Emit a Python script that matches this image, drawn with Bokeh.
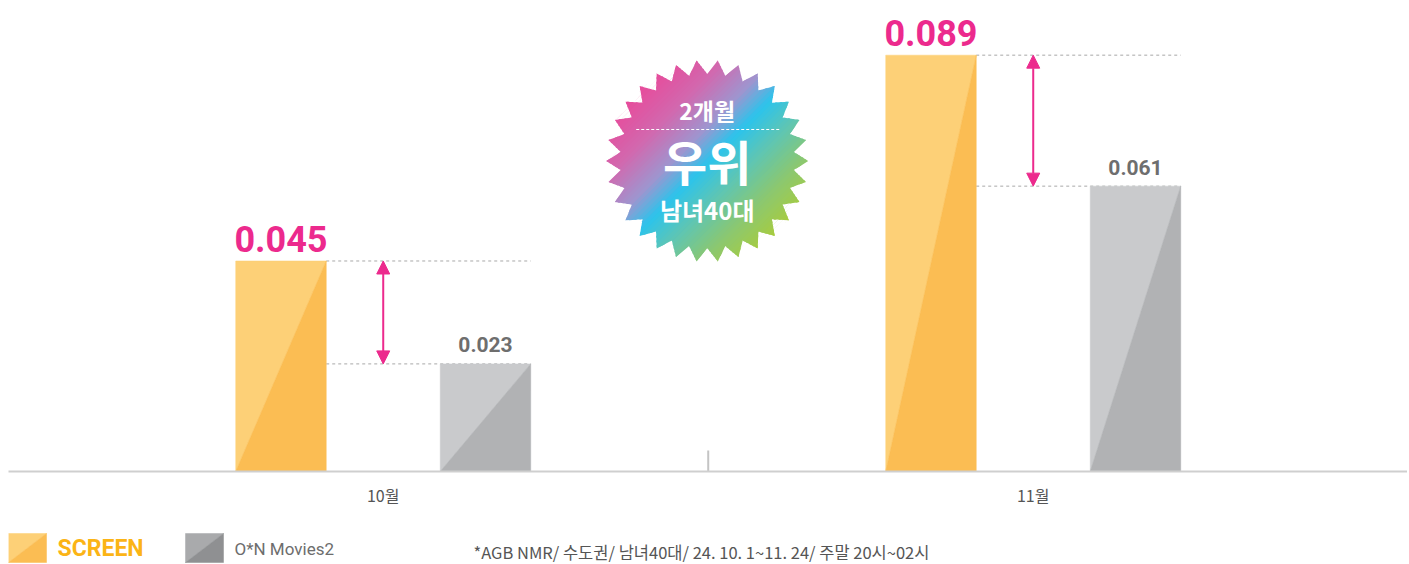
import numpy as np
from bokeh.plotting import figure
from bokeh.models import Range1d, FixedTicker, Arrow, NormalHead, ColumnDataSource
from bokeh.layouts import column
from bokeh.core.properties import value
from bokeh.embed import file_html
from bokeh.resources import INLINE

# ---------------- data ----------------
categories = ["10월", "11월"]
screen_vals = [0.045, 0.089]
movies_vals = [0.023, 0.061]
series_names = ["SCREEN", "O*N Movies2"]
badge_lines = ["2개월", "우위", "남녀40대"]
footnote = "*AGB NMR/ 수도권/ 남녀40대/ 24. 10. 1~11. 24/ 주말 20시~02시"

# ---------------- styling / layout ----------------
W = 1407
LEFT = 8
TOPB = 8
FH = 463
BOT = 50
TOP_H = TOPB + FH + BOT
PXX = 650.0
X0 = -0.5765
X1 = X0 + (W - LEFT) / PXX
PXY = 4678.0
Y1 = FH / PXY

PINK = "#ec2a8d"
GRAY_TXT = "#6e6e6e"
SCR_LIGHT, SCR_DARK = "#fdd077", "#fbbd53"
MOV_LIGHT, MOV_DARK = "#c9cacc", "#b1b2b4"
LEG_MOV_LIGHT, LEG_MOV_DARK = "#a9aaac", "#8f9092"

OFF = 102.25 / PXX
BW = 90.5 / PXX

p = figure(width=W, height=TOP_H, x_range=Range1d(X0, X1), y_range=Range1d(0, Y1),
           output_backend="svg", toolbar_location=None, y_axis_location=None,
           min_border_left=LEFT, min_border_right=0, min_border_top=TOPB, min_border_bottom=BOT)
p.grid.visible = False
p.outline_line_color = None
p.background_fill_color = "white"
p.border_fill_color = "white"

p.xaxis.ticker = FixedTicker(ticks=list(range(len(categories))))
p.xaxis.major_label_overrides = {i: c for i, c in enumerate(categories)}
p.xaxis.axis_line_color = "#cfcfcf"
p.xaxis.axis_line_width = 2
p.xaxis.major_tick_line_color = None
p.xaxis.minor_tick_line_color = None
p.xaxis.major_label_text_font = "Noto Sans CJK KR"
p.xaxis.major_label_text_font_size = "16px"
p.xaxis.major_label_text_color = "#555555"
p.xaxis.major_label_standoff = 5

# category separator tick
p.segment(x0=[0.5], y0=[0], x1=[0.5], y1=[21 / PXY], line_color="#c4c4c4", line_width=2)

# dashed reference lines
dx0, dy0, dx1, dy1 = [], [], [], []
for i in range(len(categories)):
    xa = i - OFF + BW / 2
    xb = i + OFF + BW / 2
    for v in (screen_vals[i], movies_vals[i]):
        dx0.append(xa); dx1.append(xb); dy0.append(v); dy1.append(v)
p.segment(x0=dx0, y0=dy0, x1=dx1, y1=dy1, line_color="#a8a8a8", line_width=1, line_dash="3 3")


def two_tone(fig, centers, vals, width, light, dark):
    lxs, lys, dxs, dys = [], [], [], []
    for c, v in zip(centers, vals):
        xl, xr = c - width / 2, c + width / 2
        lxs.append([xl, xl, xr]); lys.append([0, v, v])
        dxs.append([xl, xr, xr]); dys.append([0, v, 0])
    fig.patches(lxs, lys, fill_color=light, line_color=light, line_width=0.5)
    fig.patches(dxs, dys, fill_color=dark, line_color=dark, line_width=0.5)


idx = np.arange(len(categories))
two_tone(p, idx - OFF, screen_vals, BW, SCR_LIGHT, SCR_DARK)
two_tone(p, idx + OFF, movies_vals, BW, MOV_LIGHT, MOV_DARK)

# value labels
p.text(x=list(idx - OFF), y=[v + 22 / PXY for v in screen_vals],
       text=[f"{v:.3f}" for v in screen_vals], text_align="center", text_baseline="alphabetic",
       text_font=value("Roboto"), text_font_style="bold", text_font_size="36px", text_color=PINK)
p.text(x=list(idx + OFF), y=[v + 19 / PXY for v in movies_vals],
       text=[f"{v:.3f}" for v in movies_vals], text_align="center", text_baseline="alphabetic",
       text_font=value("Roboto"), text_font_style="bold", text_font_size="21px", text_color=GRAY_TXT)

# difference arrows
asrc = ColumnDataSource(dict(x=list(idx.astype(float)), y0=movies_vals, y1=screen_vals))
p.add_layout(Arrow(start=NormalHead(size=13, fill_color=PINK, line_color=PINK),
                   end=NormalHead(size=13, fill_color=PINK, line_color=PINK),
                   x_start="x", y_start="y0", x_end="x", y_end="y1", source=asrc,
                   line_color=PINK, line_width=2))

# ---------------- starburst badge ----------------
CX = 0.5 - 1.0 / PXX
CY = 310.5 / PXY
N_SPIKES = 30
R_OUT, R_IN = 101.0, 87.0
pts = []
for k in range(2 * N_SPIKES):
    a = np.pi / 2 + np.pi / N_SPIKES + k * np.pi / N_SPIKES
    r = R_OUT if k % 2 == 0 else R_IN
    pts.append((r * np.cos(a), r * np.sin(a)))


def clip_half(poly, a, b, c):
    out = []
    n = len(poly)
    for i in range(n):
        P = poly[i]; Q = poly[(i + 1) % n]
        fp = a * P[0] + b * P[1] - c
        fq = a * Q[0] + b * Q[1] - c
        if fp <= 0:
            out.append(P)
        if (fp <= 0) != (fq <= 0):
            t = fp / (fp - fq)
            out.append((P[0] + t * (Q[0] - P[0]), P[1] + t * (Q[1] - P[1])))
    return out


stops_t = [-1.0, -0.6, -0.25, 0.0, 0.3, 0.65, 1.0]
stops_c = [(232, 75, 155), (210, 105, 175), (158, 150, 208), (45, 196, 236),
           (95, 198, 180), (140, 200, 112), (170, 205, 60)]


def grad_color(t):
    r = np.interp(t, stops_t, [c[0] for c in stops_c])
    g = np.interp(t, stops_t, [c[1] for c in stops_c])
    b = np.interp(t, stops_t, [c[2] for c in stops_c])
    return "#%02x%02x%02x" % (int(r), int(g), int(b))


NS = 60
s2 = np.sqrt(2)
edges = np.linspace(-R_OUT * 1.01, R_OUT * 1.01, NS + 1)
OVL = 1.5
bxs, bys, bcs = [], [], []
for j in range(NS):
    t0, t1 = edges[j], edges[j + 1]
    poly = clip_half(pts, 1 / s2, -1 / s2, t1 + (OVL if j < NS - 1 else 0))
    poly = clip_half(poly, -1 / s2, 1 / s2, -t0)
    if len(poly) < 3:
        continue
    bxs.append([CX + q[0] / PXX for q in poly])
    bys.append([CY + q[1] / PXY for q in poly])
    bcs.append(grad_color((t0 + t1) / 2 / R_OUT))
p.patches(bxs[::-1], bys[::-1], fill_color=bcs[::-1], line_color=None)

p.segment(x0=[CX - 71 / PXX], y0=[CY + 31.5 / PXY], x1=[CX + 72 / PXX], y1=[CY + 31.5 / PXY],
          line_color="white", line_width=1, line_dash="3 2")
p.text(x=[CX, CX, CX], y=[CY + 51.5 / PXY, CY + 1 / PXY, CY - 48 / PXY], text=badge_lines,
       text_align="center", text_baseline="middle", text_font=value("Noto Sans CJK KR"),
       text_font_style="bold", text_font_size=["23px", "48px", "24px"], text_color="white")

# ---------------- legend + footnote row ----------------
BH = 564 - TOP_H
q = figure(width=W, height=BH, x_range=Range1d(LEFT, W), y_range=Range1d(0, BH),
           output_backend="svg", toolbar_location=None, x_axis_location=None, y_axis_location=None,
           min_border_left=LEFT, min_border_right=0, min_border_top=0, min_border_bottom=0)
q.grid.visible = False
q.outline_line_color = None


def swatch(fig, x, light, dark):
    fig.patch([x, x, x + 38], [2, 31, 31], fill_color=light, line_color=light, line_width=0.5)
    fig.patch([x, x + 38, x + 38], [2, 31, 2], fill_color=dark, line_color=dark, line_width=0.5)


swatch(q, 8, SCR_LIGHT, SCR_DARK)
swatch(q, 185, LEG_MOV_LIGHT, LEG_MOV_DARK)
q.text(x=[57], y=[16], text=[series_names[0]], text_baseline="middle", text_font=value("Roboto"),
       text_font_style="bold", text_font_size="23px", text_color="#fbb416")
q.text(x=[234], y=[16], text=[series_names[1]], text_baseline="middle", text_font=value("Roboto"),
       text_font_size="17px", text_color="#6d6d6d")
q.text(x=[473], y=[13], text=[footnote], text_baseline="middle", text_font=value("Noto Sans CJK KR"),
       text_font_size="16.5px", text_color="#555555")

layout = column(p, q, spacing=0)
open("out.html", "w").write(file_html(layout, INLINE))
